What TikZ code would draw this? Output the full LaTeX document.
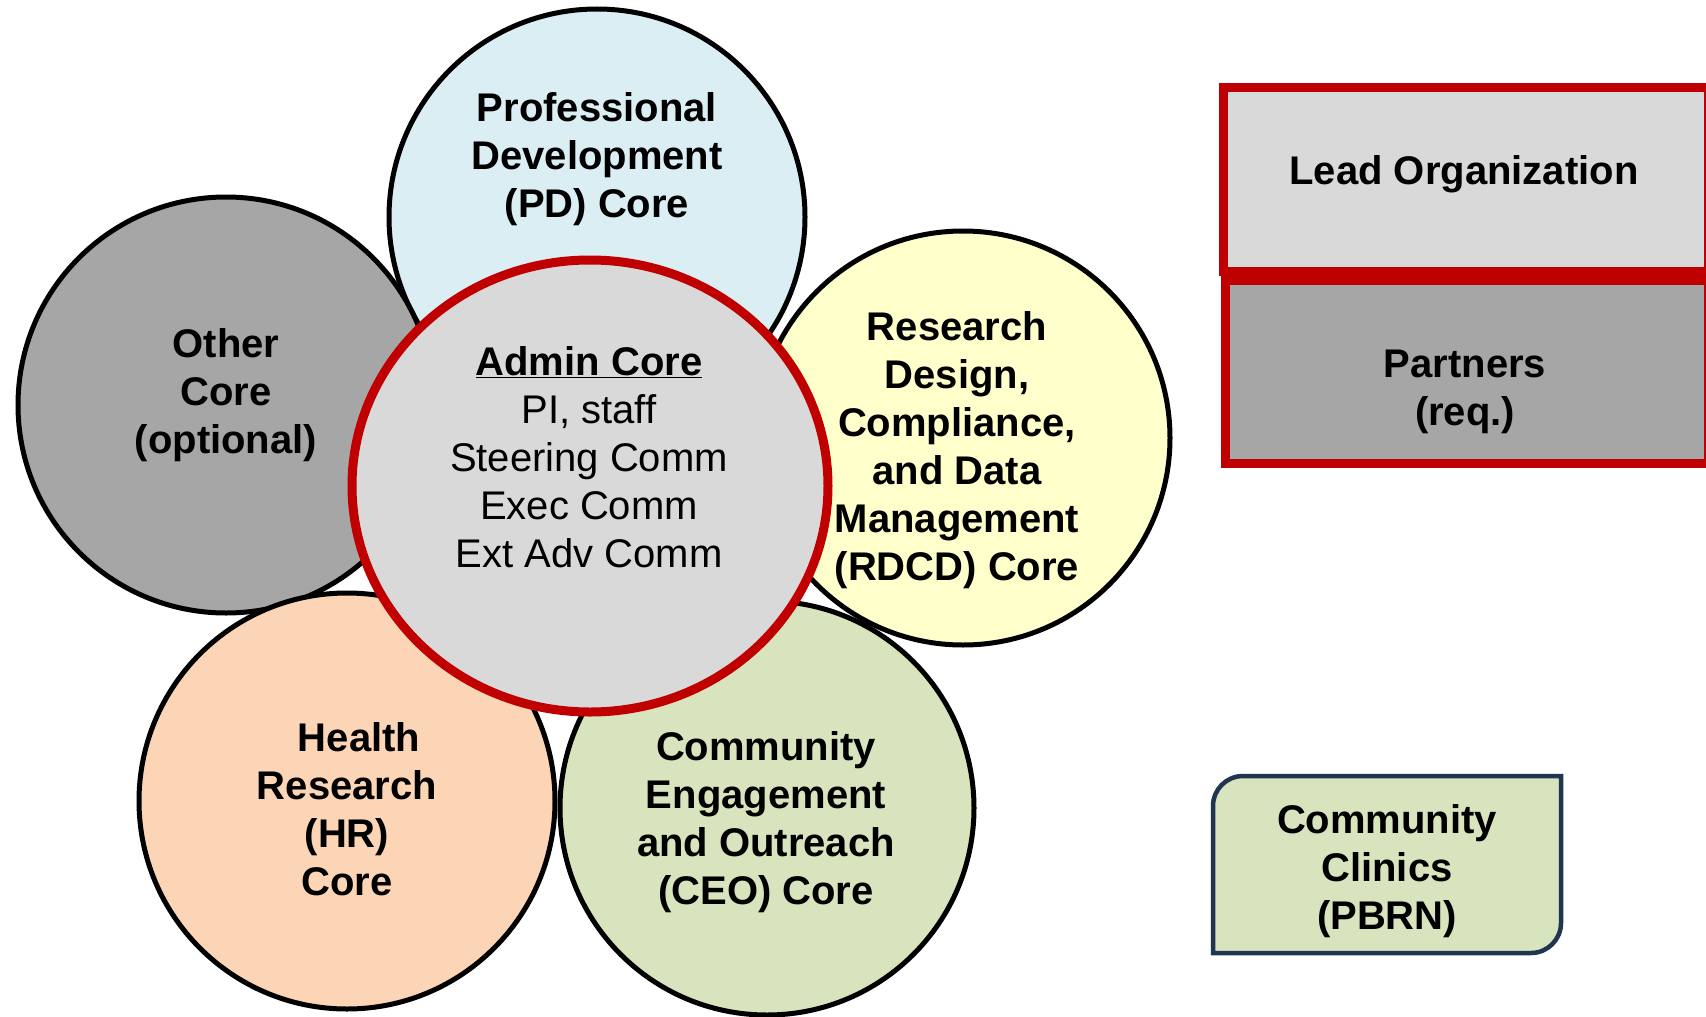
\documentclass[tikz,border=0pt]{standalone}
\usepackage{fontspec}
\setmainfont{Liberation Sans}
\usepackage{xcolor}
\definecolor{pdblue}{HTML}{DAEEF3}
\definecolor{othergray}{HTML}{A6A6A6}
\definecolor{admingray}{HTML}{D9D9D9}
\definecolor{rdcdyellow}{HTML}{FFFFCC}
\definecolor{hrpeach}{HTML}{FBD5B5}
\definecolor{ceogreen}{HTML}{D7E4BD}
\definecolor{leadred}{HTML}{C00000}
\definecolor{clinicnavy}{HTML}{1F3550}
\newcommand{\bigsize}{\fontsize{40}{48}\selectfont}
\usepackage{tikz}
\usetikzlibrary{shapes.geometric}

\begin{document}
\begin{tikzpicture}[x=1pt, y=-1pt,
    core/.style={circle, draw=black, line width=5pt, minimum size=416pt, inner sep=0pt},
    coretext/.style={align=center, font=\bigsize\bfseries, inner sep=0pt},
    orgbox/.style={rectangle, draw=leadred, line width=9pt, inner sep=0pt}] % Centre cores and organizations

      \useasboundingbox (0, 0) rectangle (1706, 1017);

      % the five cores round the admin core
      \node [core, fill=pdblue] (pd) at (597, 217) {};
      \node [core, fill=othergray] (other) at (226, 405) {};
      \node [core, fill=rdcdyellow, minimum size=414pt] (rdcd) at (963, 438) {};
      \node [core, fill=hrpeach] (hr) at (347, 801) {};
      \node [core, fill=ceogreen, minimum size=414pt] (ceo) at (767, 808) {};
      \node [ellipse, draw=leadred, line width=9pt, fill=admingray,
        minimum width=476pt, minimum height=452pt, inner sep=0pt] (admin) at (590, 486) {};

      \node [coretext] (pdtext) at (597, 159) {Professional\\Development\\(PD) Core};
      \node [coretext] (othertext) at (226, 395) {Other\\Core\\(optional)};
      \node [coretext] (rdcdtext) at (957, 450)
        {Research\\Design,\\Compliance,\\and Data\\Management\\(RDCD) Core};
      \node [coretext] (hrtext) at (347, 809) {\hspace*{24pt}Health\\Research\\(HR)\\Core};
      \node [coretext] (ceotext) at (766, 822) {Community\\Engagement\\and Outreach\\(CEO) Core};
      \node [align=center, font=\bigsize, inner sep=0pt] (admintext) at (589, 457)
        {\textbf{\underline{Admin Core}}\\PI, staff\\Steering Comm\\Exec Comm\\Ext Adv Comm};

      % organizations on the right
      \node [orgbox, fill=admingray, minimum width=485pt, minimum height=184pt] (lead) at (1466, 179.5) {};
      \node [orgbox, fill=othergray, minimum width=483pt, minimum height=183pt] (partners) at (1467, 372) {};
      \node [coretext] (leadtext) at (1464, 174) {Lead Organization};
      \node [coretext] (partnerstext) at (1465, 392) {Partners\\(req.)};

      \draw [draw=clinicnavy, fill=ceogreen, line width=4.5pt]
      (1387, 776) [rounded corners=30pt] -- (1213, 776) [sharp corners] -- (1213, 953)
      [rounded corners=30pt] -- (1561, 953) [sharp corners] -- (1561, 776) -- cycle;
      \node [coretext] (clinics) at (1387, 871) {Community\\Clinics\\(PBRN)};

    \end{tikzpicture}
\end{document}
